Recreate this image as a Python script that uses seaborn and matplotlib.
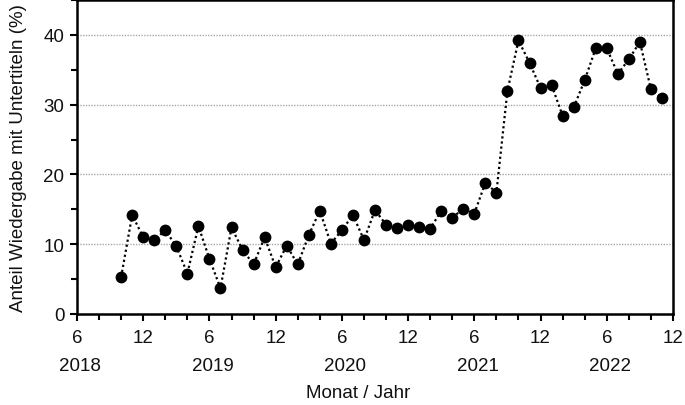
import matplotlib
matplotlib.use("Agg")
import matplotlib.pyplot as plt
import matplotlib.transforms as mtransforms
from matplotlib.ticker import MultipleLocator
import seaborn as sns
import pandas as pd

sns.set_theme(style="white")
plt.rcParams['font.family'] = ['Liberation Sans', 'DejaVu Sans']

# monthly values, Oct 2018 .. Nov 2022
years = [2018] * 3 + [2019] * 12 + [2020] * 12 + [2021] * 12 + [2022] * 11
months = [10, 11, 12] + list(range(1, 13)) * 3 + list(range(1, 12))
share = [5.3, 14.2, 11.0,
         10.6, 12.0, 9.7, 5.8, 12.6, 7.9, 3.7, 12.4, 9.2, 7.1, 11.0, 6.7,
         9.8, 7.1, 11.3, 14.8, 10.1, 12.0, 14.2, 10.6, 14.9, 12.8, 12.3, 12.8,
         12.4, 12.2, 14.8, 13.8, 15.1, 14.4, 18.8, 17.4, 32.0, 39.2, 36.0, 32.4,
         32.8, 28.4, 29.6, 33.5, 38.1, 38.1, 34.4, 36.5, 39.0, 32.2, 31.0]

tick_labels = ["6", "12"] * 5
year_labels = ["2018", "2019", "2020", "2021", "2022"]

df = pd.DataFrame({"year": years, "month": months, "share": share})
# months counted from June 2018
df["t"] = (df["year"] - 2018) * 12 + df["month"] - 6

fig, ax = plt.subplots(figsize=(6.85, 4.06), dpi=100)
fig.subplots_adjust(left=77 / 685, right=673 / 685, top=1 - 1 / 406, bottom=1 - 315 / 406)

sns.lineplot(data=df, x="t", y="share", ax=ax, color="black",
             linestyle=(0, (1, 1.3)), linewidth=1.6,
             marker="o", markersize=8.5, markeredgewidth=0, markerfacecolor="black")

ax.set_xlim(0, 54)
ax.set_ylim(0, 45)

ax.set_yticks([0, 10, 20, 30, 40])
ax.yaxis.set_minor_locator(MultipleLocator(5))
ax.set_xticks(range(0, 55, 6))
ax.set_xticklabels(tick_labels)
ax.xaxis.set_minor_locator(MultipleLocator(2))

for y in [10, 20, 30, 40]:
    ax.axhline(y, color="#a8a8a8", linestyle=(0, (1, 1)), linewidth=1, zorder=0)

for s in ax.spines.values():
    s.set_color("black")
    s.set_linewidth(1.8)

ax.tick_params(which="both", direction="out", color="black", width=1.5,
               bottom=True, left=True, labelsize=13.5, labelcolor="#111111")
ax.tick_params(which="major", length=5)
ax.tick_params(axis="x", which="major", pad=6)
ax.tick_params(axis="y", which="major", pad=4)
ax.tick_params(which="minor", length=4)

trans = mtransforms.blended_transform_factory(ax.transData, fig.transFigure)
for i, yl in enumerate(year_labels):
    ax.text(i * 12 + 0.3, 1 - 367 / 406, yl, transform=trans, ha="center", va="center",
            fontsize=13.5, color="#111111")

ax.set_xlabel("")
ax.set_ylabel("Anteil Wiedergabe mit Untertiteln (%)", fontsize=13.5, color="#111111", labelpad=12)
fig.text(358 / 685, 1 - 394 / 406, "Monat / Jahr", ha="center", va="center",
         fontsize=13.5, color="#111111")

plt.savefig("out.png", dpi=100)
plt.close()
